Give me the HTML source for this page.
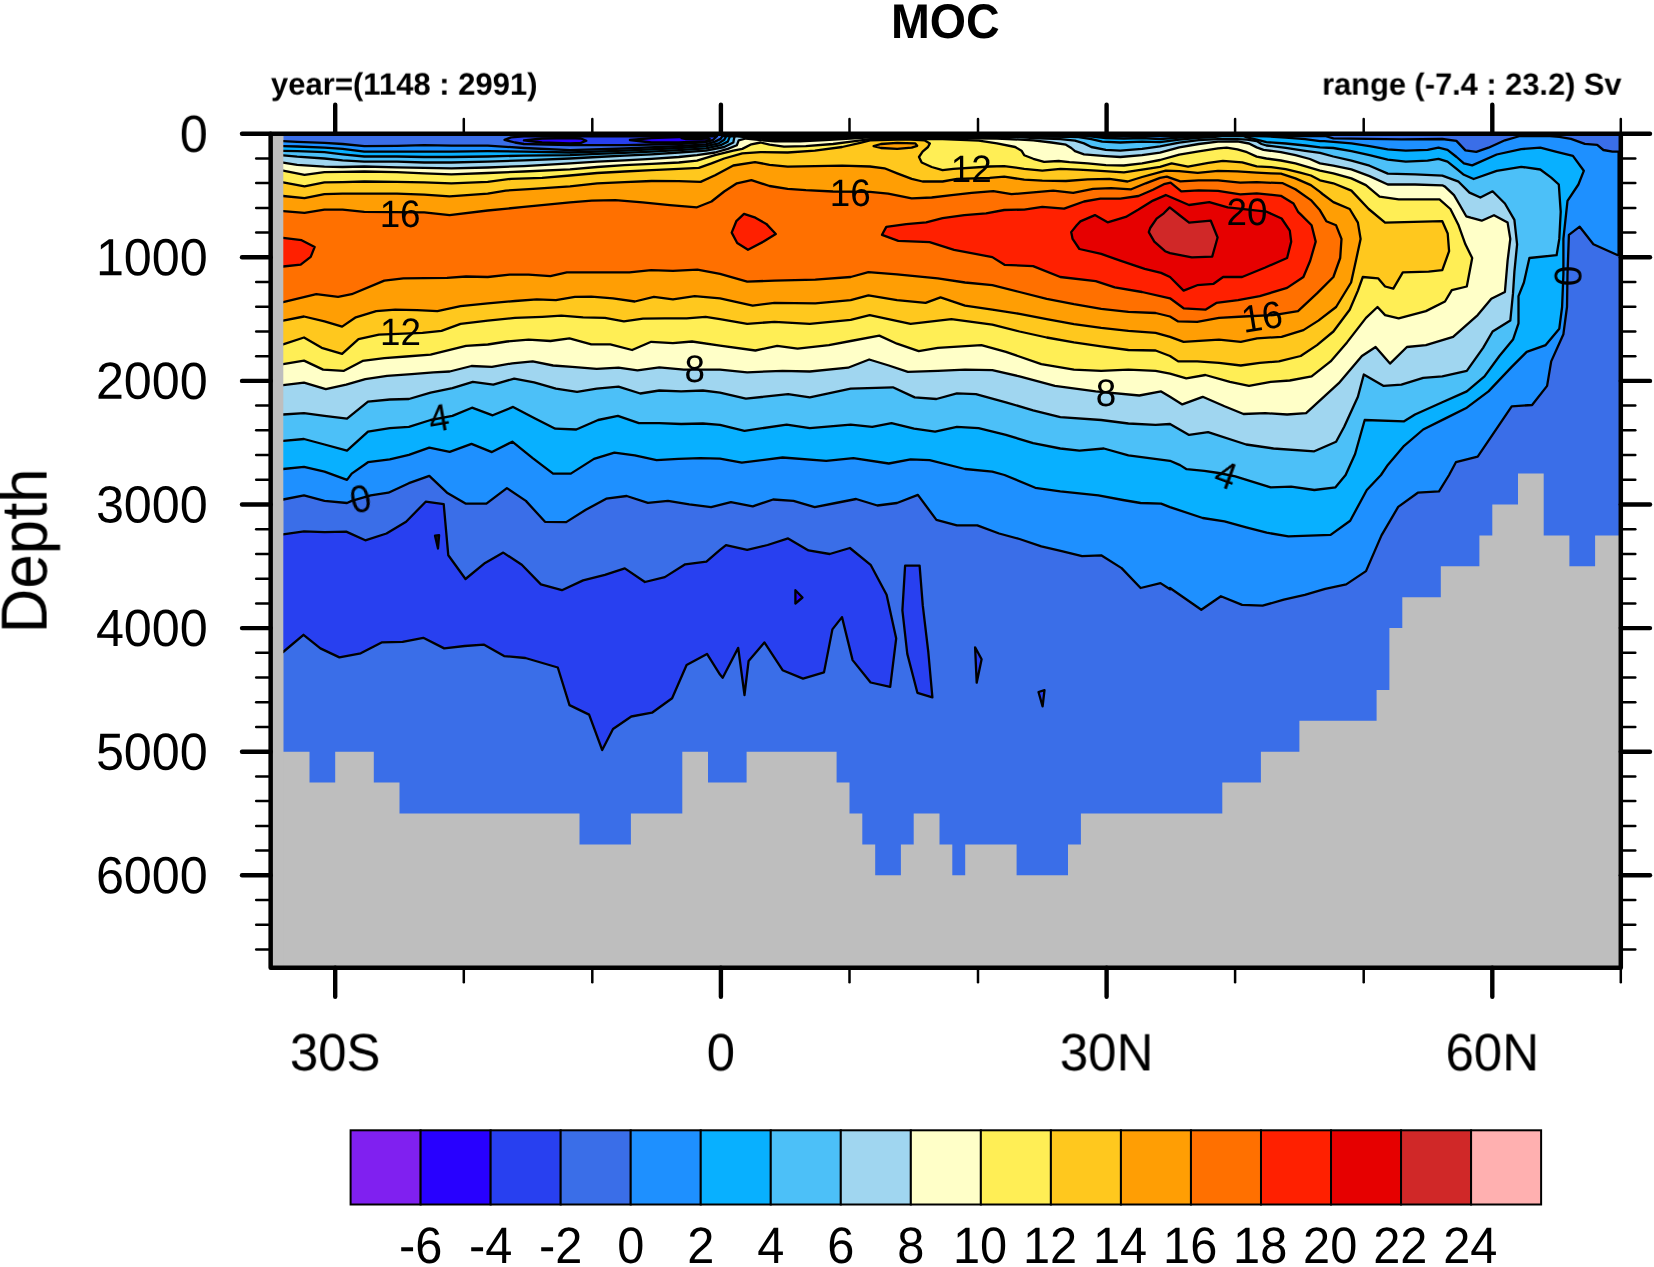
<!DOCTYPE html><html><head><meta charset="utf-8"><title>MOC</title>
<style>html,body{margin:0;padding:0;background:#fff;}svg{display:block;}text{font-family:"Liberation Sans",sans-serif;fill:#000;text-rendering:geometricPrecision;}</style></head><body>
<svg width="1654" height="1267" viewBox="0 0 1654 1267">
<defs><filter id="nf" filterUnits="userSpaceOnUse" x="0" y="0" width="1654" height="1267" color-interpolation-filters="sRGB"><feOffset dx="0" dy="0"/></filter></defs>
<rect width="1654" height="1267" fill="#fff"/>
<rect x="270.65" y="133.7" width="1350.15" height="834.0999999999999" fill="#BEBEBE"/>
<polygon points="283.3,136.0 283.3,751.7 309.5,751.7 309.5,782.6 335.2,782.6 335.2,751.7 373.8,751.7 373.8,782.6 399.5,782.6 399.5,813.5 579.5,813.5 579.5,844.4 630.9,844.4 630.9,813.5 682.3,813.5 682.3,751.7 708.0,751.7 708.0,782.6 746.6,782.6 746.6,751.7 836.6,751.7 836.6,782.6 849.5,782.6 849.5,813.5 862.3,813.5 862.3,844.4 875.2,844.4 875.2,875.3 900.9,875.3 900.9,844.4 913.7,844.4 913.7,813.5 939.5,813.5 939.5,844.4 952.3,844.4 952.3,875.3 965.2,875.3 965.2,844.4 1016.6,844.4 1016.6,875.3 1068.0,875.3 1068.0,844.4 1080.9,844.4 1080.9,813.5 1222.3,813.5 1222.3,782.6 1260.9,782.6 1260.9,751.7 1299.4,751.7 1299.4,720.8 1376.6,720.8 1376.6,689.9 1389.4,689.9 1389.4,628.1 1402.3,628.1 1402.3,597.2 1440.8,597.2 1440.8,566.3 1479.4,566.3 1479.4,535.4 1492.3,535.4 1492.3,504.5 1518.0,504.5 1518.0,473.6 1543.7,473.6 1543.7,535.4 1569.4,535.4 1569.4,566.3 1595.1,566.3 1595.1,535.4 1620.8,535.4 1620.8,136.0" fill="#3A6EE8"/>
<g stroke="#000" stroke-width="2.3" stroke-linejoin="round">
<polygon points="278.0,499.5 283.1,499.5 304.0,495.4 324.5,500.9 347.0,503.0 351.7,500.9 370.7,495.4 388.4,492.7 408.9,483.2 429.3,475.8 447.0,492.7 465.5,503.6 486.4,503.6 506.9,488.1 525.9,500.9 545.0,521.8 566.2,522.1 585.8,509.8 606.2,498.7 626.7,496.0 647.9,502.8 668.0,500.9 689.3,504.4 711.1,507.1 720.0,504.9 730.9,502.2 752.7,506.3 773.1,499.5 793.5,500.9 814.7,507.1 835.7,503.0 856.1,499.0 877.4,505.5 897.0,503.0 917.9,494.9 936.4,519.9 956.9,525.4 977.3,525.4 999.1,533.5 1019.5,539.0 1041.3,546.3 1061.7,551.2 1082.1,556.1 1101.2,555.3 1121.6,568.1 1140.6,588.0 1160.5,583.1 1170.0,589.3 1170.0,588.0 1201.3,609.8 1220.9,596.2 1242.1,604.9 1262.6,605.7 1283.8,599.7 1304.8,594.8 1325.2,588.8 1346.2,584.4 1366.0,571.1 1381.5,535.4 1398.2,506.9 1417.8,492.7 1439.0,491.3 1449.1,475.0 1455.9,462.2 1477.7,456.7 1511.7,406.3 1532.1,405.0 1547.1,385.9 1551.2,361.4 1563.4,334.2 1567.0,307.0 1567.5,274.3 1568.9,234.8 1579.7,226.7 1593.4,244.3 1617.9,255.2 1618.6,255.0 1618.6,151.7 1612.4,151.7 1603.4,150 1597.2,144.8 1584.8,143.8 1571,138.9 1559.3,136.9 1550,136.0 1520,136.0 1504.9,140.3 1488.5,147.7 1476.3,151.8 1465.4,150.4 1456.4,140.9 1442.3,139.0 1401.4,139.3 1333.4,138.4 1325,136.0 723,136.0 722.4,136.2 720.6,138.9 715.1,141.6 706.0,144.3 678.8,146.1 624.4,148.5 570.0,150.1 523.9,148.0 487.7,145.6 451.4,145.6 424.2,145.2 397.0,145.8 364.3,146.1 342.6,144.0 324.4,142.9 297.2,141.8 283.1,141.2 278.0,141.2" fill="#1E90FF"/>
<polygon points="278.0,469.0 283.1,469.0 304.0,466.8 324.5,471.7 347.0,479.9 351.7,473.6 368.0,462.2 389.8,459.4 408.9,454.8 429.3,447.7 449.7,451.8 471.5,443.9 491.9,452.1 512.3,441.7 532.7,458.1 553.1,473.6 570.8,473.6 594.0,458.9 614.4,452.6 634.8,455.3 656.6,460.2 678.4,458.9 700.2,458.1 720.0,458.6 741.8,462.7 782.6,457.5 826.2,460.8 853.4,458.1 888.8,463.5 910.6,459.4 929.6,460.2 965.0,469.0 992.3,471.7 1004.5,475.0 1035.3,487.8 1060.3,491.3 1098.4,495.4 1122.9,500.0 1140.6,503.0 1161.1,503.6 1170.0,507.1 1170.0,507.1 1202.7,518.0 1224.5,521.3 1246.2,527.3 1266.7,532.7 1288.4,536.3 1330.6,534.9 1350.2,520.7 1366.8,490.0 1381.0,475.0 1387.8,464.9 1404.1,445.8 1423.2,429.5 1445.0,418.6 1466.8,407.7 1488.5,391.4 1511.7,366.9 1526.7,351.9 1545.7,345.1 1559.3,328.7 1562.1,307.0 1563.4,274.3 1563.4,238.9 1567.5,200.8 1578.4,184.5 1583.8,170.8 1572.9,155.9 1556.6,151.8 1540.3,147.7 1521.2,149.1 1496.7,154.5 1472.2,165.4 1463.9,163.4 1456.6,157.0 1447.5,149.8 1438.5,147.6 1427.6,149.8 1405.8,150.7 1387.7,149.4 1369.5,146.1 1351.4,143.4 1324.2,141.1 1320.0,141.1 1305.1,139.2 1285.7,137.7 1266.4,136.3 1255,136.0 1205,136.0 1198.7,136.6 1179.3,137.5 1160.0,139.2 1142.1,138.0 1123.9,138.5 1105.8,138.0 1087.7,136.2 1080,136.5 870,136.3 825,136.9 800,137.5 775,137.5 761,136.8 745,136.2 727,136.0 726.0,136.7 724.2,139.8 718.7,143.4 706.0,146.1 678.8,148.0 624.4,150.7 570.0,152.5 523.9,151.6 487.7,151.2 451.4,151.6 424.2,151.6 397.0,151.6 364.3,151.6 342.6,148.9 324.4,147.6 297.2,146.5 283.1,146.1 278.0,146.1" fill="#08B0FF"/>
<polygon points="278.0,440.9 283.1,440.9 304.0,439.0 324.5,444.5 347.0,450.7 368.0,431.7 389.8,428.1 408.9,426.8 430.6,420.0 452.4,415.9 472.0,407.7 492.7,415.3 513.1,406.9 534.1,418.0 555.3,428.7 576.3,429.5 598.1,420.0 617.9,415.9 638.9,423.2 659.3,423.2 681.1,424.0 702.9,423.5 720.0,424.9 744.5,430.8 786.7,424.6 809.8,428.1 850.7,424.6 872.2,426.8 891.5,423.2 914.1,428.7 935.1,431.7 956.9,426.8 978.6,428.1 1005.9,434.9 1033.1,443.1 1060.3,448.5 1079.4,450.7 1103.9,448.5 1128.4,455.3 1170.0,460.8 1180.1,465.1 1186.6,469.2 1204.3,470.9 1218.7,473.0 1235.3,476.4 1270.7,487.3 1291.2,486.7 1314.3,490.0 1335.5,487.3 1345.6,475.0 1355.1,454.0 1364.7,420.0 1404.1,421.3 1415.0,414.5 1442.3,402.3 1466.8,391.4 1484.5,376.4 1499.4,356.0 1513.0,339.6 1518.5,323.3 1518.5,296.1 1523.9,282.5 1529.4,258.0 1556.6,255.2 1559.3,238.9 1560.7,211.7 1558.8,184.5 1551.2,177.6 1540.3,169.5 1521.2,166.8 1496.7,170.8 1473.6,179.0 1463.9,174.8 1456.6,168.8 1447.5,161.6 1438.5,158.8 1427.6,160.7 1405.8,161.6 1387.7,159.7 1369.5,155.2 1351.4,151.2 1333.3,148.0 1320.0,147.4 1305.1,145.5 1285.7,143.5 1266.4,142.1 1256.7,139.7 1247.0,137.3 1243,136.0 1222,136.0 1213.2,137.0 1198.7,137.9 1179.3,139.7 1160.0,142.1 1142.1,141.6 1120.3,142.5 1102.2,141.6 1091.3,139.2 1078.6,137.1 1070,136.8 870,136.5 825,137.6 800,138.7 775,138.7 761,137.6 745,136.6 731,136.0 729.6,137.1 727.8,141.6 720.6,145.2 706.0,148.3 678.8,150.1 651.6,151.6 624.4,152.9 597.2,153.9 570.0,155.2 523.9,155.6 487.7,156.5 451.4,157.0 424.2,157.0 397.0,156.5 364.3,156.5 342.6,154.3 324.4,152.1 297.2,151.2 283.1,150.9 278.0,150.9" fill="#4CC0F8"/>
<polygon points="278.0,414.5 283.1,414.5 304.0,413.1 324.5,415.9 347.0,418.6 368.0,401.7 389.8,399.5 408.9,399.0 430.6,392.7 452.4,388.1 472.8,381.8 493.3,384.6 514.2,378.6 534.1,382.4 555.9,388.6 577.1,391.9 596.7,388.6 618.5,386.7 640.3,393.5 659.3,390.5 681.1,391.4 702.9,390.5 720.0,392.7 745.9,398.7 788.1,394.1 809.8,397.4 850.7,388.6 892.9,387.3 914.7,397.4 936.4,399.0 956.9,393.3 975.9,394.1 1005.9,402.3 1033.1,410.4 1060.3,417.2 1101.2,420.0 1128.4,423.5 1155.6,424.9 1170.0,424.0 1189.1,434.9 1208.1,432.2 1246.2,444.5 1273.5,448.5 1314.3,451.3 1336.1,441.7 1344.2,426.8 1357.9,396.8 1363.8,374.5 1383.7,385.9 1401.4,384.6 1423.2,377.8 1442.3,376.4 1466.8,370.9 1483.1,347.8 1492.6,331.5 1510.3,320.6 1513.0,293.4 1514.4,271.6 1517.1,244.3 1514.4,219.8 1504.9,203.5 1492.6,191.3 1480.4,197.5 1469.5,192.6 1458.6,181.7 1442.3,175.7 1415.0,174.4 1387.8,173.6 1369.5,165.7 1351.4,160.7 1333.3,156.5 1320.0,152.9 1305.1,150.8 1285.7,147.9 1266.4,145.5 1261.5,144.0 1256.7,141.1 1247.0,139.7 1237.4,139.2 1218.0,139.2 1198.7,140.2 1179.3,142.6 1160.0,146.4 1142.1,148.9 1120.3,150.7 1105.8,149.8 1091.3,147.0 1084.0,143.4 1075.0,140.7 1060.5,139.2 1033.3,138.0 1020,137.0 870,136.8 825,138.6 800,140.0 775,140.0 761,138.7 745,137.2 735,136.0 734.2,138.0 733.3,142.5 724.2,147.0 706.0,150.7 678.8,152.5 651.6,154.3 624.4,155.6 597.2,157.0 570.0,158.5 523.9,160.3 487.7,161.6 451.4,162.5 424.2,162.5 397.0,161.6 364.3,161.6 342.6,160.3 324.4,158.5 297.2,156.7 283.1,155.4 278.0,155.4" fill="#A0D6F0"/>
<polygon points="278.0,385.1 283.1,385.1 304.0,382.7 325.8,389.2 346.2,384.6 365.3,379.1 387.1,375.8 411.6,374.2 433.4,372.3 449.7,371.5 471.5,366.0 491.9,366.9 512.3,363.3 532.7,361.4 553.1,365.5 572.2,366.9 596.7,368.8 618.5,367.7 637.5,370.4 659.3,367.4 683.8,369.6 720.0,369.6 747.2,372.3 782.6,370.9 809.8,371.5 848.0,367.7 869.2,359.5 888.8,365.5 907.9,371.8 937.8,370.9 965.0,369.6 992.3,370.1 1019.5,376.4 1054.9,385.9 1095.7,391.4 1139.3,395.5 1161.1,391.4 1170.0,396.8 1182.3,404.4 1202.7,396.8 1224.5,406.3 1243.5,414.0 1265.3,413.1 1287.1,414.5 1306.1,413.1 1338.8,383.2 1361.9,356.0 1375.6,347.0 1390.0,363.6 1406.9,347.0 1425.9,345.1 1453.1,336.9 1477.7,315.1 1491.3,298.8 1504.9,292.0 1507.6,260.7 1510.3,238.9 1507.6,222.6 1494.0,215.2 1481.7,220.7 1470.8,217.7 1466.2,216.3 1460.2,205.7 1454.0,195.1 1445.0,186.6 1442.3,185.3 1415.0,184.5 1387.8,184.5 1369.5,176.1 1351.4,169.4 1333.3,165.7 1320.0,163.4 1309.9,159.0 1295.4,155.1 1280.9,152.2 1263.5,149.8 1256.7,147.4 1249.0,143.5 1237.4,141.4 1218.0,141.6 1198.7,144.0 1179.3,147.4 1160.0,152.7 1142.1,155.2 1120.3,157.0 1105.8,156.1 1084.0,154.3 1075.0,151.2 1071.3,148.0 1065.9,144.7 1051.4,142.5 1033.3,140.3 997.0,138.5 870.0,137.4 850.1,138.5 825.0,140.0 800.0,141.4 775.0,141.4 761.0,140.2 745.9,138.5 738.7,140.3 736.9,145.2 727.8,148.9 715.1,152.5 697.0,155.2 678.8,157.0 651.6,158.8 624.4,160.3 597.2,161.6 570.0,163.4 523.9,166.1 487.7,167.5 451.4,168.3 424.2,167.9 397.0,167.4 364.3,166.5 342.6,167.0 324.4,166.6 297.2,164.8 283.1,162.6 278.0,162.6" fill="#FFFFC8"/>
<polygon points="278.0,364.1 283.1,364.1 304.0,360.6 323.1,369.6 343.5,370.9 362.6,360.9 384.3,358.2 406.1,356.5 430.6,354.6 466.0,345.9 487.8,344.5 506.9,341.5 528.6,339.6 550.4,341.0 569.5,338.3 591.3,344.3 610.3,344.3 632.1,350.0 651.2,341.8 672.9,343.2 692.0,341.5 720.0,345.6 755.4,350.5 777.2,345.9 797.6,348.6 828.9,345.1 850.7,341.0 879.3,335.6 897.0,343.7 918.7,351.1 937.8,347.8 981.4,345.1 1005.9,351.9 1041.3,364.1 1073.9,369.6 1101.2,370.9 1128.4,369.6 1155.6,370.9 1170.0,373.7 1186.3,378.3 1205.4,375.0 1229.9,381.8 1249.0,385.9 1270.7,381.8 1289.8,380.5 1311.6,376.4 1330.6,361.4 1347.0,342.4 1366.0,317.9 1377.5,307.0 1385.1,315.1 1398.7,318.4 1425.9,311.1 1445.0,301.5 1451.8,290.1 1466.8,286.5 1472.2,258.0 1465.4,244.3 1458.6,225.3 1450.4,209.0 1439.5,199.4 1398.7,199.4 1379.6,196.7 1365.9,185.1 1351.4,178.4 1333.3,173.3 1320.0,170.6 1309.9,167.7 1295.4,163.4 1280.9,160.5 1266.4,158.5 1256.7,156.6 1247.0,152.2 1237.4,149.3 1226.7,147.6 1218.0,148.4 1198.7,151.3 1179.3,154.7 1160.0,160.0 1142.1,163.4 1123.9,165.5 1105.8,165.2 1087.7,163.4 1069.5,162.1 1058.6,161.0 1044.1,161.9 1033.3,158.8 1024.2,155.2 1021.5,150.7 1015.1,147.0 997.0,143.4 978.8,140.7 942.6,139.2 870.0,139.2 851.2,141.6 833.0,144.0 805.8,146.1 784.0,146.7 769.5,144.7 760.5,142.5 751.4,144.3 742.3,148.9 733.3,150.7 715.1,155.2 697.0,160.7 678.8,162.5 651.6,163.9 624.4,165.2 597.2,167.0 570.0,169.4 523.9,171.5 487.7,173.0 451.4,174.3 424.2,173.3 397.0,172.1 364.3,171.5 342.6,171.9 324.4,172.1 304.5,174.8 283.1,170.6 278.0,170.6" fill="#FFEE55"/>
<polygon points="278.0,344.3 283.1,344.3 304.0,337.5 321.7,347.8 342.1,353.8 358.5,339.1 378.9,334.7 422.5,332.8 441.5,330.9 460.6,323.8 487.8,320.6 515.0,317.9 542.3,316.8 561.3,315.7 583.1,317.3 604.9,317.9 623.9,321.4 643.0,318.7 664.8,318.4 686.6,318.4 705.6,316.8 720.0,319.2 747.2,323.8 774.5,321.9 809.8,323.8 850.7,319.8 869.7,315.1 910.6,323.8 951.4,319.2 992.3,324.7 1019.5,331.5 1046.7,337.5 1073.9,342.4 1101.2,346.4 1128.4,350.0 1155.6,350.5 1170.0,356.0 1178.2,361.4 1197.2,361.4 1219.0,362.8 1240.8,365.5 1259.8,362.8 1278.9,361.4 1300.7,356.0 1317.0,345.1 1333.4,331.5 1349.7,309.7 1357.9,290.6 1362.8,277.0 1378.3,278.4 1385.1,286.5 1393.3,288.7 1402.8,272.4 1428.6,271.6 1442.3,270.2 1449.1,251.2 1447.7,233.5 1442.3,221.2 1385.1,222.6 1368.7,209.0 1351.4,190.6 1333.3,183.3 1320.0,180.3 1310.9,175.5 1300.2,172.6 1285.7,169.2 1271.2,167.2 1256.7,166.3 1242.2,162.4 1222.9,160.8 1208.4,162.9 1188.0,166.6 1171.6,163.4 1160.0,166.8 1142.1,169.7 1123.9,172.4 1096.7,170.6 1078.6,169.7 1060.5,168.8 1042.3,170.6 1024.2,168.8 1004.2,166.1 989.7,166.5 953.4,168.8 942.6,170.1 931.7,167.0 921.7,162.5 919.0,157.0 922.6,151.6 928.0,147.0 929.9,143.4 924.4,140.3 906.3,139.4 888.1,139.8 870.0,140.3 860.2,142.9 842.1,147.0 814.9,150.7 787.7,152.5 760.5,152.1 742.3,153.4 724.2,158.5 711.5,163.4 698.8,167.9 678.8,168.8 651.6,170.1 624.4,171.5 597.2,173.0 570.0,175.5 542.1,177.9 511.2,178.8 487.7,181.9 451.4,183.3 424.2,182.4 397.0,181.9 364.3,181.5 342.6,182.1 324.4,182.4 304.5,186.4 283.1,182.4 278.0,182.4" fill="#FFC81E"/>
<polygon points="278.0,320.6 283.1,320.6 304.0,316.5 324.5,321.4 342.1,326.6 355.8,317.3 376.2,311.1 395.2,309.7 417.0,310.2 437.4,311.1 460.6,306.2 487.8,303.4 515.0,301.0 536.8,299.3 555.9,300.2 574.9,296.9 591.3,296.6 613.0,298.3 634.8,301.5 653.9,296.9 672.9,299.3 694.7,296.1 720.0,298.3 752.7,305.6 774.5,302.9 815.3,303.4 850.7,300.2 868.4,295.3 897.0,300.2 925.6,302.9 940.5,297.4 965.0,305.6 992.3,309.7 1019.5,313.8 1046.7,319.2 1073.9,324.1 1101.2,327.9 1128.4,330.9 1155.6,332.8 1170.0,336.9 1183.6,341.8 1219.0,339.6 1240.8,341.8 1257.1,338.3 1281.6,336.9 1303.4,330.1 1318.4,320.6 1336.1,307.0 1351.1,282.5 1356.5,258.0 1360.6,238.9 1357.9,222.6 1349.7,209.0 1333.4,202.1 1322.5,194.0 1320.0,191.9 1310.9,185.1 1295.4,178.4 1280.9,173.7 1271.2,173.3 1256.7,172.6 1237.4,171.4 1218.0,170.8 1197.7,172.8 1179.3,171.1 1165.8,170.6 1160.0,172.1 1142.1,177.0 1127.6,181.5 1109.4,178.8 1087.7,179.3 1065.9,181.0 1042.3,180.6 1024.2,179.7 1004.2,176.6 989.7,177.9 957.1,178.8 942.6,181.5 922.6,181.5 911.7,178.8 897.2,173.3 884.5,168.3 870.0,166.5 842.1,165.7 814.9,166.1 787.7,166.6 769.5,164.8 755.0,162.1 733.3,165.5 715.1,175.2 700.6,181.9 678.8,181.1 651.6,181.0 624.4,182.1 597.2,183.3 570.0,186.4 533.0,188.8 505.8,190.6 487.7,193.7 449.6,196.4 424.2,194.6 397.0,193.7 364.3,193.7 342.6,193.7 324.4,194.2 304.5,198.2 283.1,196.0 278.0,196.0" fill="#FF9E04"/>
<polygon points="873.6,146.1 880.9,144.0 897.2,142.9 915.3,143.4 917.2,145.8 911.7,147.6 897.2,148.9 880.9,148.0" fill="#FF9E04"/>
<polygon points="278.0,302.1 283.1,302.1 316.3,294.2 338.1,296.9 351.7,294.2 384.3,280.6 403.4,278.4 447.0,277.8 466.0,276.5 487.8,277.0 509.6,274.6 528.6,274.6 550.4,276.2 566.8,272.4 596.7,272.4 629.4,272.4 651.2,270.2 672.9,270.8 697.4,269.7 720.0,273.8 747.2,281.6 774.5,280.6 815.3,279.7 850.7,277.0 868.4,272.1 897.0,274.3 937.8,278.4 965.0,282.5 992.3,285.2 1019.5,292.0 1046.7,298.8 1073.9,304.2 1101.2,308.9 1128.4,311.9 1155.6,313.0 1170.0,316.5 1178.2,321.4 1197.2,321.9 1219.0,317.9 1243.5,316.5 1273.5,315.1 1298.0,311.1 1317.0,293.4 1333.4,277.0 1340.2,258.0 1341.5,238.9 1336.1,225.3 1326.3,221.2 1320.0,210.3 1310.9,200.1 1295.4,189.2 1282.8,183.2 1256.7,182.2 1240.3,182.7 1218.0,180.3 1198.7,180.3 1180.3,181.3 1166.8,176.6 1160.0,177.9 1145.7,183.3 1131.2,189.3 1111.2,188.2 1093.1,188.8 1073.2,192.9 1053.2,190.6 1033.3,192.4 1011.5,194.2 993.3,191.1 971.6,192.9 951.6,195.1 931.7,197.5 911.7,198.4 888.1,193.7 870.0,191.8 833.0,191.5 805.8,190.2 787.7,188.8 769.5,186.0 751.4,180.1 736.9,183.3 724.2,191.5 711.5,201.5 697.0,207.3 669.8,205.1 642.6,202.4 615.3,200.2 591.8,200.6 570.0,202.4 523.9,206.9 487.7,210.5 449.6,215.1 424.2,212.3 364.3,211.8 342.6,209.6 324.4,209.6 304.5,212.9 283.1,211.1 278.0,211.1" fill="#FF7000"/>
<polygon points="278.0,237.9 283.1,237.9 301.6,240.2 314.7,246.9 310.7,256.9 300.7,264.7 283.1,266.5 278.0,266.5" fill="#FF2000"/>
<polygon points="744.0,213.9 755.4,217.7 766.3,223.9 775.8,234.0 763.6,241.6 748.0,249.8 737.2,243.0 731.7,232.6 736.3,221.2" fill="#FF2000"/>
<polygon points="882.0,234.8 886.3,226.9 906.3,224.1 926.2,222.3 942.6,218.2 964.3,215.1 986.1,213.3 1004.2,210.0 1024.2,209.6 1042.3,206.9 1064.1,208.7 1084.0,201.5 1100.4,198.7 1120.3,198.7 1138.5,196.0 1153.0,189.7 1163.9,184.2 1170.6,182.7 1181.3,191.4 1198.7,190.4 1218.0,190.9 1240.3,194.3 1256.7,193.3 1280.9,195.8 1293.5,203.5 1298.3,212.2 1300.7,214.4 1311.6,225.3 1315.7,241.6 1310.2,260.7 1303.4,277.0 1287.1,287.9 1259.8,296.1 1238.1,300.2 1216.3,302.9 1205.4,309.7 1183.6,308.3 1170.0,298.3 1142.0,292.0 1114.8,287.4 1095.7,281.1 1060.3,277.0 1033.1,266.1 1004.5,264.8 992.3,257.1 954.1,249.8 929.6,242.2 898.3,240.8" fill="#FF2000"/>
<polygon points="1071.2,232.1 1076.7,225.3 1080.4,221.4 1094.9,215.1 1107.6,222.3 1125.8,216.9 1138.5,209.6 1153.0,200.6 1165.7,195.1 1165.8,195.0 1189.0,205.0 1209.3,202.1 1227.7,207.4 1266.7,211.7 1281.6,218.5 1289.8,230.7 1291.2,241.6 1287.1,258.0 1265.3,267.5 1242.1,277.0 1223.1,277.0 1213.6,283.8 1197.2,285.2 1183.6,290.6 1170.0,277.0 1161.1,272.9 1144.7,268.9 1120.2,260.7 1101.2,253.9 1079.4,249.0 1072.6,238.9" fill="#E60000"/>
<polygon points="1148.8,232.1 1150.2,228 1156.6,218.7 1163.8,213.3 1169.7,207.4 1179.3,215 1189.1,222.6 1210.8,220.7 1217.6,237.5 1212.2,256.6 1191.8,257.4 1170,253.1 1165.1,251.2 1154.3,241.6" fill="#D02828"/>
<polygon points="278.0,534.4 283.1,534.4 304.0,531.4 324.5,532.2 346.2,531.6 365.3,540.3 386.5,533.5 406.1,521.8 425.7,501.7 443.7,504.1 448.3,555.3 465.5,579.0 485.1,562.9 503.3,552.6 521.8,564.8 540.9,584.4 561.9,590.2 583.1,580.4 604.9,574.9 624.8,568.4 644.9,582.0 664.8,577.1 685.2,564.3 706.4,561.6 720.0,549.9 726.0,545.2 747.2,549.9 767.6,545.0 788.1,538.4 808.5,550.4 829.7,554.0 849.9,548.0 870.6,564.8 886.6,594.8 896.2,638.4 890.2,686.8 870.6,682.5 852.6,660.1 842.0,617.1 832.4,629.4 824.0,672.4 803.0,678.6 782.6,670.2 764.4,642.4 748.6,661.0 744.5,695.0 738.2,647.9 722.7,677.8 720.0,674.6 707.0,653.9 686.6,665.0 672.1,698.3 652.0,712.7 631.3,716.5 613.0,729.0 602.2,750.0 589.1,714.6 569.5,705.1 557.8,667.5 525.4,658.0 504.1,656.1 483.7,644.6 464.7,646.0 444.2,648.4 423.3,637.8 402.6,641.9 381.6,642.4 360.7,653.3 339.4,657.4 320.4,648.4 303.5,634.8 283.1,652.0 278.0,652.0" fill="#2840F0"/>
<polygon points="905.1,565.7 919.6,565.7 922.8,605.7 928.3,652.0 932.4,697.4 917.4,692.8 907.3,653.9 902.4,610.3" fill="#2840F0"/>
<polygon points="975.1,647.3 981.6,659.3 976.7,682.7" fill="#2840F0"/>
<polygon points="1038.5,692.0 1044.5,690.1 1042.6,706.4" fill="#2840F0"/>
<polygon points="435.0,535.7 439.1,535.2 438.0,548.5" fill="#101020"/>
<polygon points="795.4,590.2 802.5,597.5 795.4,603.5" fill="#2800FF"/>
<polygon points="504.5,139.8 514.9,142.5 523.9,144.0 570.0,145.2 624.4,145.2 678.8,144.0 706.0,142.1 713.3,139.8 716.9,136.2 716,136.0 523.9,136.3 511.2,137.4" fill="#2840F0"/>
<polygon points="523.9,140.3 542.1,138.5 570.0,138.0 580.9,138.5 586.3,140.7 580.9,142.9 570.0,143.4 542.1,142.5" fill="#2800FF"/>
<polygon points="629.9,140.0 651.6,138.2 678.8,137.1 706.0,137.1 709.7,138.9 706.0,141.1 678.8,142.5 651.6,142.5" fill="#2800FF"/>
<polygon points="681.6,138.2 693.3,137.3 705.1,137.4 706.0,138.5 697.0,139.2 686.1,139.2" fill="#8020F0"/>
</g>
<rect x="270.65" y="133.7" width="12.650000000000034" height="834.0999999999999" fill="#BEBEBE"/>
<g font-size="36.8" text-anchor="middle" filter="url(#nf)">
<text transform="translate(400.1,213.4) rotate(0) scale(1,1.04)" y="12.9">16</text>
<text transform="translate(400.5,332.0) rotate(0) scale(1,1.04)" y="12.9">12</text>
<text transform="translate(694.7,368.3) rotate(0) scale(1,1.04)" y="12.9">8</text>
<text transform="translate(438.8,418) rotate(-10) scale(1,1.04)" y="12.9">4</text>
<text transform="translate(360.5,498.8) rotate(-13) scale(1,1.04)" y="12.9">0</text>
<text transform="translate(850.2,193.0) rotate(0) scale(1,1.04)" y="12.9">16</text>
<text transform="translate(971.2,168.4) rotate(0) scale(1,1.04)" y="12.9">12</text>
<text transform="translate(1246.9,211.7) rotate(0) scale(1,1.04)" y="12.9">20</text>
<text transform="translate(1261.9,316.5) rotate(-9) scale(1,1.04)" y="12.9">16</text>
<text transform="translate(1105.9,392.7) rotate(0) scale(1,1.04)" y="12.9">8</text>
<text transform="translate(1226,475) rotate(20) scale(1,1.04)" y="12.9">4</text>
<text transform="translate(1568,276) rotate(90) scale(1,1.04)" y="12.9">0</text>
</g>
<g stroke="#000" fill="none">
<rect x="270.65" y="133.7" width="1350.15" height="834.1" stroke-width="4.5" stroke-linejoin="round"/>
<line x1="242" y1="133.7" x2="270.65" y2="133.7" stroke-width="4.4" stroke-linecap="round"/>
<line x1="1620.8" y1="133.7" x2="1650" y2="133.7" stroke-width="4.4" stroke-linecap="round"/>
<line x1="256.2" y1="158.4" x2="270.65" y2="158.4" stroke-width="2.5" stroke-linecap="round"/>
<line x1="1620.8" y1="158.4" x2="1635.3" y2="158.4" stroke-width="2.5" stroke-linecap="round"/>
<line x1="256.2" y1="183.1" x2="270.65" y2="183.1" stroke-width="2.5" stroke-linecap="round"/>
<line x1="1620.8" y1="183.1" x2="1635.3" y2="183.1" stroke-width="2.5" stroke-linecap="round"/>
<line x1="256.2" y1="207.9" x2="270.65" y2="207.9" stroke-width="2.5" stroke-linecap="round"/>
<line x1="1620.8" y1="207.9" x2="1635.3" y2="207.9" stroke-width="2.5" stroke-linecap="round"/>
<line x1="256.2" y1="232.6" x2="270.65" y2="232.6" stroke-width="2.5" stroke-linecap="round"/>
<line x1="1620.8" y1="232.6" x2="1635.3" y2="232.6" stroke-width="2.5" stroke-linecap="round"/>
<line x1="242" y1="257.3" x2="270.65" y2="257.3" stroke-width="4.4" stroke-linecap="round"/>
<line x1="1620.8" y1="257.3" x2="1650" y2="257.3" stroke-width="4.4" stroke-linecap="round"/>
<line x1="256.2" y1="282.0" x2="270.65" y2="282.0" stroke-width="2.5" stroke-linecap="round"/>
<line x1="1620.8" y1="282.0" x2="1635.3" y2="282.0" stroke-width="2.5" stroke-linecap="round"/>
<line x1="256.2" y1="306.7" x2="270.65" y2="306.7" stroke-width="2.5" stroke-linecap="round"/>
<line x1="1620.8" y1="306.7" x2="1635.3" y2="306.7" stroke-width="2.5" stroke-linecap="round"/>
<line x1="256.2" y1="331.5" x2="270.65" y2="331.5" stroke-width="2.5" stroke-linecap="round"/>
<line x1="1620.8" y1="331.5" x2="1635.3" y2="331.5" stroke-width="2.5" stroke-linecap="round"/>
<line x1="256.2" y1="356.2" x2="270.65" y2="356.2" stroke-width="2.5" stroke-linecap="round"/>
<line x1="1620.8" y1="356.2" x2="1635.3" y2="356.2" stroke-width="2.5" stroke-linecap="round"/>
<line x1="242" y1="380.9" x2="270.65" y2="380.9" stroke-width="4.4" stroke-linecap="round"/>
<line x1="1620.8" y1="380.9" x2="1650" y2="380.9" stroke-width="4.4" stroke-linecap="round"/>
<line x1="256.2" y1="405.6" x2="270.65" y2="405.6" stroke-width="2.5" stroke-linecap="round"/>
<line x1="1620.8" y1="405.6" x2="1635.3" y2="405.6" stroke-width="2.5" stroke-linecap="round"/>
<line x1="256.2" y1="430.3" x2="270.65" y2="430.3" stroke-width="2.5" stroke-linecap="round"/>
<line x1="1620.8" y1="430.3" x2="1635.3" y2="430.3" stroke-width="2.5" stroke-linecap="round"/>
<line x1="256.2" y1="455.1" x2="270.65" y2="455.1" stroke-width="2.5" stroke-linecap="round"/>
<line x1="1620.8" y1="455.1" x2="1635.3" y2="455.1" stroke-width="2.5" stroke-linecap="round"/>
<line x1="256.2" y1="479.8" x2="270.65" y2="479.8" stroke-width="2.5" stroke-linecap="round"/>
<line x1="1620.8" y1="479.8" x2="1635.3" y2="479.8" stroke-width="2.5" stroke-linecap="round"/>
<line x1="242" y1="504.5" x2="270.65" y2="504.5" stroke-width="4.4" stroke-linecap="round"/>
<line x1="1620.8" y1="504.5" x2="1650" y2="504.5" stroke-width="4.4" stroke-linecap="round"/>
<line x1="256.2" y1="529.2" x2="270.65" y2="529.2" stroke-width="2.5" stroke-linecap="round"/>
<line x1="1620.8" y1="529.2" x2="1635.3" y2="529.2" stroke-width="2.5" stroke-linecap="round"/>
<line x1="256.2" y1="553.9" x2="270.65" y2="553.9" stroke-width="2.5" stroke-linecap="round"/>
<line x1="1620.8" y1="553.9" x2="1635.3" y2="553.9" stroke-width="2.5" stroke-linecap="round"/>
<line x1="256.2" y1="578.7" x2="270.65" y2="578.7" stroke-width="2.5" stroke-linecap="round"/>
<line x1="1620.8" y1="578.7" x2="1635.3" y2="578.7" stroke-width="2.5" stroke-linecap="round"/>
<line x1="256.2" y1="603.4" x2="270.65" y2="603.4" stroke-width="2.5" stroke-linecap="round"/>
<line x1="1620.8" y1="603.4" x2="1635.3" y2="603.4" stroke-width="2.5" stroke-linecap="round"/>
<line x1="242" y1="628.1" x2="270.65" y2="628.1" stroke-width="4.4" stroke-linecap="round"/>
<line x1="1620.8" y1="628.1" x2="1650" y2="628.1" stroke-width="4.4" stroke-linecap="round"/>
<line x1="256.2" y1="652.8" x2="270.65" y2="652.8" stroke-width="2.5" stroke-linecap="round"/>
<line x1="1620.8" y1="652.8" x2="1635.3" y2="652.8" stroke-width="2.5" stroke-linecap="round"/>
<line x1="256.2" y1="677.5" x2="270.65" y2="677.5" stroke-width="2.5" stroke-linecap="round"/>
<line x1="1620.8" y1="677.5" x2="1635.3" y2="677.5" stroke-width="2.5" stroke-linecap="round"/>
<line x1="256.2" y1="702.3" x2="270.65" y2="702.3" stroke-width="2.5" stroke-linecap="round"/>
<line x1="1620.8" y1="702.3" x2="1635.3" y2="702.3" stroke-width="2.5" stroke-linecap="round"/>
<line x1="256.2" y1="727.0" x2="270.65" y2="727.0" stroke-width="2.5" stroke-linecap="round"/>
<line x1="1620.8" y1="727.0" x2="1635.3" y2="727.0" stroke-width="2.5" stroke-linecap="round"/>
<line x1="242" y1="751.7" x2="270.65" y2="751.7" stroke-width="4.4" stroke-linecap="round"/>
<line x1="1620.8" y1="751.7" x2="1650" y2="751.7" stroke-width="4.4" stroke-linecap="round"/>
<line x1="256.2" y1="776.4" x2="270.65" y2="776.4" stroke-width="2.5" stroke-linecap="round"/>
<line x1="1620.8" y1="776.4" x2="1635.3" y2="776.4" stroke-width="2.5" stroke-linecap="round"/>
<line x1="256.2" y1="801.1" x2="270.65" y2="801.1" stroke-width="2.5" stroke-linecap="round"/>
<line x1="1620.8" y1="801.1" x2="1635.3" y2="801.1" stroke-width="2.5" stroke-linecap="round"/>
<line x1="256.2" y1="825.9" x2="270.65" y2="825.9" stroke-width="2.5" stroke-linecap="round"/>
<line x1="1620.8" y1="825.9" x2="1635.3" y2="825.9" stroke-width="2.5" stroke-linecap="round"/>
<line x1="256.2" y1="850.6" x2="270.65" y2="850.6" stroke-width="2.5" stroke-linecap="round"/>
<line x1="1620.8" y1="850.6" x2="1635.3" y2="850.6" stroke-width="2.5" stroke-linecap="round"/>
<line x1="242" y1="875.3" x2="270.65" y2="875.3" stroke-width="4.4" stroke-linecap="round"/>
<line x1="1620.8" y1="875.3" x2="1650" y2="875.3" stroke-width="4.4" stroke-linecap="round"/>
<line x1="256.2" y1="900.0" x2="270.65" y2="900.0" stroke-width="2.5" stroke-linecap="round"/>
<line x1="1620.8" y1="900.0" x2="1635.3" y2="900.0" stroke-width="2.5" stroke-linecap="round"/>
<line x1="256.2" y1="924.7" x2="270.65" y2="924.7" stroke-width="2.5" stroke-linecap="round"/>
<line x1="1620.8" y1="924.7" x2="1635.3" y2="924.7" stroke-width="2.5" stroke-linecap="round"/>
<line x1="256.2" y1="949.5" x2="270.65" y2="949.5" stroke-width="2.5" stroke-linecap="round"/>
<line x1="1620.8" y1="949.5" x2="1635.3" y2="949.5" stroke-width="2.5" stroke-linecap="round"/>
<line x1="335.2" y1="104.7" x2="335.2" y2="133.7" stroke-width="4.4" stroke-linecap="round"/>
<line x1="335.2" y1="967.8" x2="335.2" y2="996.7" stroke-width="4.4" stroke-linecap="round"/>
<line x1="463.8" y1="119.1" x2="463.8" y2="133.7" stroke-width="2.5" stroke-linecap="round"/>
<line x1="463.8" y1="967.8" x2="463.8" y2="982.2" stroke-width="2.5" stroke-linecap="round"/>
<line x1="592.3" y1="119.1" x2="592.3" y2="133.7" stroke-width="2.5" stroke-linecap="round"/>
<line x1="592.3" y1="967.8" x2="592.3" y2="982.2" stroke-width="2.5" stroke-linecap="round"/>
<line x1="720.9" y1="104.7" x2="720.9" y2="133.7" stroke-width="4.4" stroke-linecap="round"/>
<line x1="720.9" y1="967.8" x2="720.9" y2="996.7" stroke-width="4.4" stroke-linecap="round"/>
<line x1="849.5" y1="119.1" x2="849.5" y2="133.7" stroke-width="2.5" stroke-linecap="round"/>
<line x1="849.5" y1="967.8" x2="849.5" y2="982.2" stroke-width="2.5" stroke-linecap="round"/>
<line x1="978.0" y1="119.1" x2="978.0" y2="133.7" stroke-width="2.5" stroke-linecap="round"/>
<line x1="978.0" y1="967.8" x2="978.0" y2="982.2" stroke-width="2.5" stroke-linecap="round"/>
<line x1="1106.6" y1="104.7" x2="1106.6" y2="133.7" stroke-width="4.4" stroke-linecap="round"/>
<line x1="1106.6" y1="967.8" x2="1106.6" y2="996.7" stroke-width="4.4" stroke-linecap="round"/>
<line x1="1235.1" y1="119.1" x2="1235.1" y2="133.7" stroke-width="2.5" stroke-linecap="round"/>
<line x1="1235.1" y1="967.8" x2="1235.1" y2="982.2" stroke-width="2.5" stroke-linecap="round"/>
<line x1="1363.7" y1="119.1" x2="1363.7" y2="133.7" stroke-width="2.5" stroke-linecap="round"/>
<line x1="1363.7" y1="967.8" x2="1363.7" y2="982.2" stroke-width="2.5" stroke-linecap="round"/>
<line x1="1492.3" y1="104.7" x2="1492.3" y2="133.7" stroke-width="4.4" stroke-linecap="round"/>
<line x1="1492.3" y1="967.8" x2="1492.3" y2="996.7" stroke-width="4.4" stroke-linecap="round"/>
<line x1="1620.8" y1="119.1" x2="1620.8" y2="133.7" stroke-width="2.5" stroke-linecap="round"/>
<line x1="1620.8" y1="967.8" x2="1620.8" y2="982.2" stroke-width="2.5" stroke-linecap="round"/>
</g>
<g stroke="#000" stroke-width="2">
<rect x="350.6" y="1130.3" width="70.03" height="74.2" fill="#8020F0"/>
<rect x="420.63" y="1130.3" width="70.03" height="74.2" fill="#2800FF"/>
<rect x="490.66" y="1130.3" width="70.03" height="74.2" fill="#2840F0"/>
<rect x="560.69" y="1130.3" width="70.03" height="74.2" fill="#3A6EE8"/>
<rect x="630.72" y="1130.3" width="70.03" height="74.2" fill="#1E90FF"/>
<rect x="700.75" y="1130.3" width="70.03" height="74.2" fill="#08B0FF"/>
<rect x="770.78" y="1130.3" width="70.03" height="74.2" fill="#4CC0F8"/>
<rect x="840.81" y="1130.3" width="70.03" height="74.2" fill="#A0D6F0"/>
<rect x="910.84" y="1130.3" width="70.03" height="74.2" fill="#FFFFC8"/>
<rect x="980.87" y="1130.3" width="70.03" height="74.2" fill="#FFEE55"/>
<rect x="1050.9" y="1130.3" width="70.03" height="74.2" fill="#FFC81E"/>
<rect x="1120.93" y="1130.3" width="70.03" height="74.2" fill="#FF9E04"/>
<rect x="1190.96" y="1130.3" width="70.03" height="74.2" fill="#FF7000"/>
<rect x="1260.99" y="1130.3" width="70.03" height="74.2" fill="#FF2000"/>
<rect x="1331.02" y="1130.3" width="70.03" height="74.2" fill="#E60000"/>
<rect x="1401.05" y="1130.3" width="70.03" height="74.2" fill="#D02828"/>
<rect x="1471.08" y="1130.3" width="70.03" height="74.2" fill="#FFB0B0"/>
</g>
<g filter="url(#nf)">
<text transform="translate(945.3,38.0) rotate(0.03) scale(1,1.045)" font-size="46.6" text-anchor="middle" font-weight="bold">MOC</text>
<text transform="translate(270.9,94.6) rotate(0.03) scale(1,1.0001)" font-size="31.05" text-anchor="start" font-weight="bold">year=(1148 : 2991)</text>
<text transform="translate(1621.6,94.8) rotate(0.03) scale(1,1.0001)" font-size="30.8" text-anchor="end" font-weight="bold">range (-7.4 : 23.2) Sv</text>
<text transform="translate(207.8,151.7) rotate(0.03) scale(1,1.04)" font-size="50.3" text-anchor="end">0</text>
<text transform="translate(207.8,275.3) rotate(0.03) scale(1,1.04)" font-size="50.3" text-anchor="end">1000</text>
<text transform="translate(207.8,398.9) rotate(0.03) scale(1,1.04)" font-size="50.3" text-anchor="end">2000</text>
<text transform="translate(207.8,522.5) rotate(0.03) scale(1,1.04)" font-size="50.3" text-anchor="end">3000</text>
<text transform="translate(207.8,646.1) rotate(0.03) scale(1,1.04)" font-size="50.3" text-anchor="end">4000</text>
<text transform="translate(207.8,769.7) rotate(0.03) scale(1,1.04)" font-size="50.3" text-anchor="end">5000</text>
<text transform="translate(207.8,893.3) rotate(0.03) scale(1,1.04)" font-size="50.3" text-anchor="end">6000</text>
<text transform="translate(46.6,550.8) rotate(-90) scale(1,1.055)" font-size="61.8" text-anchor="middle">Depth</text>
<text transform="translate(335.2,1070.8) rotate(0.03) scale(1,1.03)" font-size="51.0" text-anchor="middle">30S</text>
<text transform="translate(720.9,1070.8) rotate(0.03) scale(1,1.03)" font-size="51.0" text-anchor="middle">0</text>
<text transform="translate(1106.6,1070.8) rotate(0.03) scale(1,1.03)" font-size="51.0" text-anchor="middle">30N</text>
<text transform="translate(1492.3,1070.8) rotate(0.03) scale(1,1.03)" font-size="51.0" text-anchor="middle">60N</text>
<text transform="translate(420.6,1263.0) rotate(0.03) scale(1,1.055)" font-size="48.7" text-anchor="middle">-6</text>
<text transform="translate(490.7,1263.0) rotate(0.03) scale(1,1.055)" font-size="48.7" text-anchor="middle">-4</text>
<text transform="translate(560.7,1263.0) rotate(0.03) scale(1,1.055)" font-size="48.7" text-anchor="middle">-2</text>
<text transform="translate(630.7,1263.0) rotate(0.03) scale(1,1.055)" font-size="48.7" text-anchor="middle">0</text>
<text transform="translate(700.8,1263.0) rotate(0.03) scale(1,1.055)" font-size="48.7" text-anchor="middle">2</text>
<text transform="translate(770.8,1263.0) rotate(0.03) scale(1,1.055)" font-size="48.7" text-anchor="middle">4</text>
<text transform="translate(840.8,1263.0) rotate(0.03) scale(1,1.055)" font-size="48.7" text-anchor="middle">6</text>
<text transform="translate(910.8,1263.0) rotate(0.03) scale(1,1.055)" font-size="48.7" text-anchor="middle">8</text>
<text transform="translate(980.1,1263.0) rotate(0.03) scale(1,1.055)" font-size="48.7" text-anchor="middle">10</text>
<text transform="translate(1050.1,1263.0) rotate(0.03) scale(1,1.055)" font-size="48.7" text-anchor="middle">12</text>
<text transform="translate(1120.1,1263.0) rotate(0.03) scale(1,1.055)" font-size="48.7" text-anchor="middle">14</text>
<text transform="translate(1190.2,1263.0) rotate(0.03) scale(1,1.055)" font-size="48.7" text-anchor="middle">16</text>
<text transform="translate(1260.2,1263.0) rotate(0.03) scale(1,1.055)" font-size="48.7" text-anchor="middle">18</text>
<text transform="translate(1330.2,1263.0) rotate(0.03) scale(1,1.055)" font-size="48.7" text-anchor="middle">20</text>
<text transform="translate(1400.3,1263.0) rotate(0.03) scale(1,1.055)" font-size="48.7" text-anchor="middle">22</text>
<text transform="translate(1470.3,1263.0) rotate(0.03) scale(1,1.055)" font-size="48.7" text-anchor="middle">24</text>
</g>
</svg></body></html>
